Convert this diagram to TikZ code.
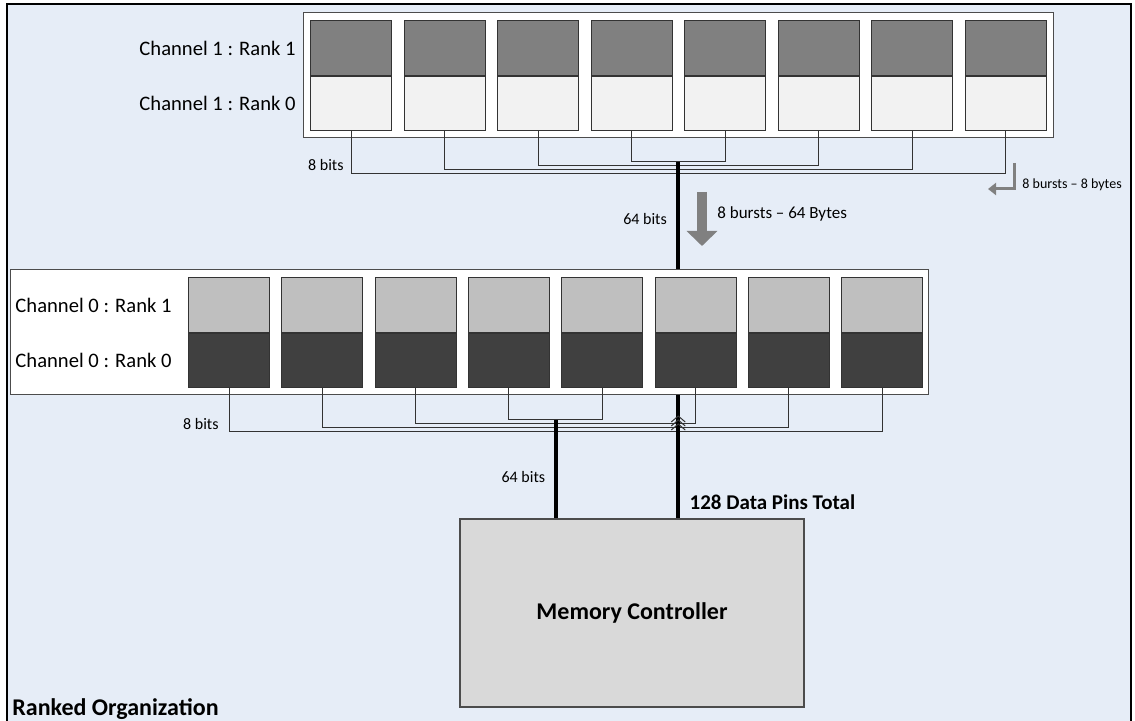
\documentclass[tikz,border=0pt]{standalone}
\usepackage{fontspec}
\setmainfont{Carlito}
\usetikzlibrary{positioning, calc, arrows.meta}

\definecolor{panelblue}{RGB}{230,237,247}
\definecolor{rankgray}{RGB}{128,128,128}
\definecolor{ranklight}{RGB}{242,242,242}
\definecolor{ranksilver}{RGB}{191,191,191}
\definecolor{rankcoal}{RGB}{64,64,64}
\definecolor{ctrlgray}{RGB}{217,217,217}

\begin{document}
\begin{tikzpicture}[x=0.5pt, y=-0.5pt, font=\fontsize{10.3}{12}\selectfont,
    module/.style={draw=black!70, fill=white, line width=0.6pt, inner sep=0pt, anchor=north west},
    half/.style={draw=black!80, line width=0.5pt, minimum width=40.5pt, inner sep=0pt},
    upper/.style={half, minimum height=27.5pt, anchor=north west},
    lower/.style={half, minimum height=27pt},
    wire/.style={draw=black!80, line width=0.5pt},
    bus/.style={line width=2pt},
    burst/.style={draw=rankgray},
    small/.style={font=\fontsize{8}{9}\selectfont, inner sep=0pt},
    rowlabel/.style={inner sep=0pt}]
    \useasboundingbox (0,0) rectangle (1135,721);

    % panel
    \fill[panelblue] (7,4) rectangle (1131,721);
    \draw[line width=1pt] (7,721) -- (7,4) -- (1131,4) -- (1131,721);

    % memory controller
    \node[draw=black!70, fill=ctrlgray, line width=0.6pt, minimum width=172pt, minimum height=94pt,
          font=\fontsize{12}{14}\selectfont\bfseries] (mc) at (632,613) {Memory Controller};

    % channel 1 module
    \node[module, minimum width=375pt, minimum height=62.5pt] (c1box) at (303,12) {};
    \foreach \i in {1,...,8} {
        \node[upper, fill=rankgray] (c1r1-\i) at (310+93.5*\i-93.5,20) {};
        \node[lower, fill=ranklight, below=0pt of c1r1-\i] (c1r0-\i) {};
    }
    \node[rowlabel, left=7pt of c1r1-1] (c1l1) {Channel 1 : Rank 1};
    \node[rowlabel, left=7pt of c1r0-1] (c1l0) {Channel 1 : Rank 0};

    % channel 1 byte lanes
    \foreach \a/\b/\d in {4/5/31, 3/6/35, 2/7/39, 1/8/43}
        \draw[wire] (c1r0-\a.south) -- ++(0,\d) -| (c1r0-\b.south);
    \coordinate (tapA) at ($(c1r0-4.south)!.5!(c1r0-5.south)+(0,31)$);
    \node[small, anchor=east] (c1bits) at (344,165) {8 bits};

    % channel 0 module
    \node[module, minimum width=459pt, minimum height=62.5pt] (c0box) at (10,269) {};
    \foreach \i in {1,...,8} {
        \node[upper, fill=ranksilver] (c0r1-\i) at (188+93.3*\i-93.3,277) {};
        \node[lower, fill=rankcoal, below=0pt of c0r1-\i] (c0r0-\i) {};
    }
    \node[rowlabel, left=8pt of c0r1-1] (c0l1) {Channel 0 : Rank 1};
    \node[rowlabel, left=8pt of c0r0-1] (c0l0) {Channel 0 : Rank 0};

    % channel 0 byte lanes
    \foreach \a/\b/\d in {4/5/32, 3/6/36, 2/7/40, 1/8/44}
        \draw[wire] (c0r0-\a.south) -- ++(0,\d) -| (c0r0-\b.south);
    \coordinate (tapB) at ($(c0r0-4.south)!.5!(c0r0-5.south)+(0,32)$);
    \node[small, anchor=east] (c0bits) at (219,424) {8 bits};

    % 64 bit buses
    \draw[bus] (tapA) -- (tapA |- c0box.north);
    \draw[bus] (tapB) -- (tapB |- mc.north);
    \draw[bus] (tapA |- c0box.south) -- (tapA |- mc.north);
    \foreach \l in {422,426,430}
        \draw[wire] ($(tapA |- 0,\l)+(-7,0)$) -- ($(tapA |- 0,\l)+(0,-6)$) -- ($(tapA |- 0,\l)+(7,0)$);

    \node[small, anchor=east] (busA) at ($(tapA)+(-11,57)$) {64 bits};
    \node[small, anchor=east] (busB) at ($(tapB)+(-10,57)$) {64 bits};
    \node[anchor=west, inner sep=0pt, font=\fontsize{10.5}{12}\selectfont\bfseries] (pins)
        at ($(tapA |- mc.north)+(11,-16)$) {128 Data Pins Total};

    % bursts
    \draw[burst, line width=5pt, -{Triangle[width=15pt,length=7.5pt]}] (702,192) -- (702,246);
    \node[anchor=west, inner sep=0pt, font=\fontsize{8.5}{10}\selectfont] (burstA) at (717,214) {8 bursts -- 64 Bytes};
    \draw[burst, line width=1.5pt, -{Triangle[width=6pt,length=4pt]}] (1014,163) |- (988,189);
    \node[anchor=west, inner sep=0pt, font=\fontsize{7}{8}\selectfont] (burstB) at (1022,185) {8 bursts -- 8 bytes};

    \node[anchor=west, inner sep=0pt, font=\fontsize{12}{14}\selectfont\bfseries] (title) at (12,709) {Ranked Organization};
\end{tikzpicture}
\end{document}
